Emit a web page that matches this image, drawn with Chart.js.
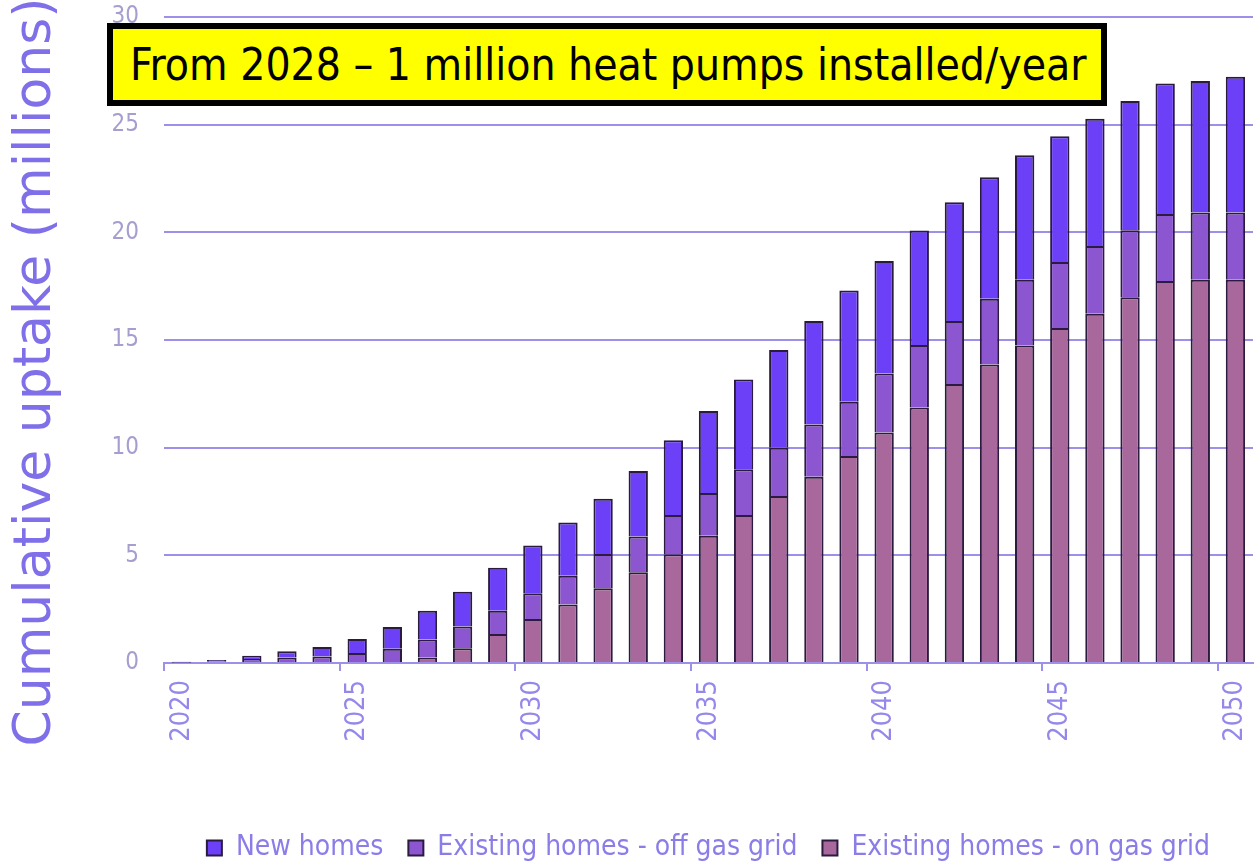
<html>
<head>
<meta charset="UTF-8">
<title>Heat pump uptake</title>
<script src="https://cdn.jsdelivr.net/npm/chart.js"></script>
<style>
  body { margin: 0; background: #fff; }
  #wrap { position: relative; width: 1256px; height: 865px; }
  #banner {
    position: absolute; left: 107px; top: 23px; width: 1000px; height: 83px;
    box-sizing: border-box; border: 6px solid #000; background: #ffff00;
    font-family: 'DejaVu Sans Condensed', 'DejaVu Sans', sans-serif;
    font-size: 44px; line-height: 71px; color: #000; padding-left: 17px;
    white-space: nowrap;
  }
</style>
</head>
<body>
<div id="wrap">
  <canvas id="chart"></canvas>
  <div id="banner">From 2028 – 1 million heat pumps installed/year</div>
</div>
<script>
// data (millions, per segment of each stacked bar)
const years = [2020, 2021, 2022, 2023, 2024, 2025, 2026, 2027, 2028, 2029,
               2030, 2031, 2032, 2033, 2034, 2035, 2036, 2037, 2038, 2039,
               2040, 2041, 2042, 2043, 2044, 2045, 2046, 2047, 2048, 2049, 2050];
const onGasGrid = [0, 0, 0, 0, 0, 0, 0.05, 0.25, 0.68, 1.35,
                   2.04, 2.72, 3.47, 4.21, 5.05, 5.91, 6.87, 7.76, 8.65, 9.61,
                   10.71, 11.86, 12.96, 13.86, 14.74, 15.56, 16.22, 16.99, 17.74, 17.80, 17.80];
const offGasGrid = [0.02, 0.06, 0.19, 0.25, 0.30, 0.47, 0.61, 0.84, 1.01, 1.08,
                    1.20, 1.33, 1.59, 1.66, 1.82, 1.99, 2.13, 2.24, 2.43, 2.52,
                    2.73, 2.91, 2.92, 3.06, 3.06, 3.06, 3.15, 3.11, 3.11, 3.12, 3.12];
const newHomes = [0.04, 0.08, 0.15, 0.29, 0.44, 0.65, 1.01, 1.34, 1.62, 1.99,
                  2.22, 2.48, 2.57, 3.05, 3.47, 3.80, 4.16, 4.53, 4.80, 5.17,
                  5.23, 5.31, 5.52, 5.64, 5.78, 5.84, 5.91, 6.00, 6.06, 6.11, 6.30];
const yTicks = [0, 5, 10, 15, 20, 25, 30];
const yTitleText = 'Cumulative uptake (millions)';

const narrow = "'DejaVu Sans Condensed', 'DejaVu Sans', sans-serif";
const lavender = '#9d90ea';
const edge = '#2a1b3f';

const yTitle = {
  id: 'yTitle',
  afterDraw(chart) {
    const c = chart.ctx;
    c.save();
    c.translate(50, 372);
    c.rotate(-Math.PI / 2);
    c.font = "52px 'DejaVu Sans', sans-serif";
    c.fillStyle = '#7f6fe8';
    c.textAlign = 'center';
    c.textBaseline = 'alphabetic';
    c.fillText(yTitleText, 0, 0);
    c.restore();
  }
};

const ctx = document.getElementById('chart').getContext('2d');
new Chart(ctx, {
  type: 'bar',
  data: {
    labels: years.map(String),
    datasets: [
      { label: 'Existing homes - on gas grid', data: onGasGrid, backgroundColor: '#a8689b' },
      { label: 'Existing homes - off gas grid', data: offGasGrid, backgroundColor: '#8b56cf' },
      { label: 'New homes', data: newHomes, backgroundColor: '#6b40f6' }
    ].map(d => Object.assign(d, {
      borderColor: edge, borderWidth: 2, barPercentage: 0.55, categoryPercentage: 1
    }))
  },
  options: {
    responsive: true,
    maintainAspectRatio: false,
    animation: false,
    layout: { padding: { top: 17, right: 3, left: 0, bottom: -7 } },
    plugins: {
      tooltip: { enabled: false },
      legend: {
        position: 'bottom',
        fullSize: false,
        reverse: true,
        labels: {
          font: { family: narrow, size: 28 },
          color: '#8a7de8',
          boxWidth: 15,
          boxHeight: 15,
          padding: 25
        }
      }
    },
    scales: {
      x: {
        stacked: true,
        border: { color: lavender, width: 2 },
        grid: {
          offset: true,
          drawOnChartArea: false,
          tickLength: 8,
          lineWidth: 2,
          color: c => (c.index !== undefined && c.index < years.length && years[c.index] % 5 === 0) ? lavender : 'rgba(0,0,0,0)'
        },
        ticks: {
          autoSkip: false,
          minRotation: 90,
          maxRotation: 90,
          padding: 9,
          color: '#9488ea',
          font: { family: narrow, size: 27 },
          callback: (v, i) => years[i] % 5 === 0 ? String(years[i]) : ''
        },
        afterFit: s => { s.height = 146; s.paddingLeft = 0; s.paddingRight = 0; }
      },
      y: {
        stacked: true,
        min: 0,
        max: 30,
        border: { display: false },
        grid: { color: lavender, lineWidth: 2, drawTicks: true, tickLength: 25, tickColor: 'rgba(0,0,0,0)' },
        afterBuildTicks: s => { s.ticks = yTicks.map(v => ({ value: v })); },
        ticks: {
          padding: 0,
          color: '#a59fd0',
          font: { family: narrow, size: 24 }
        },
        afterFit: s => { s.width = 164; }
      }
    }
  },
  plugins: [yTitle]
});
</script>
</body>
</html>
